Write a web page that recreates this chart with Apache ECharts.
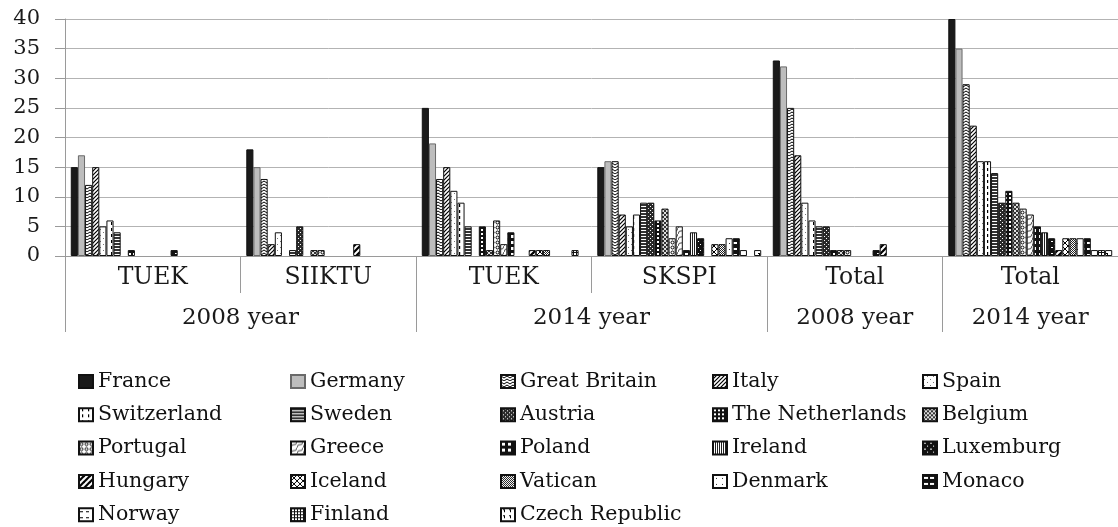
<!DOCTYPE html>
<html>
<head>
<meta charset="utf-8">
<script src="https://cdn.jsdelivr.net/npm/echarts@6/dist/echarts.min.js"></script>
<style>html,body{margin:0;padding:0;background:#fff}#chart{width:1118px;height:527px}</style>
</head>
<body>
<div id="chart"></div>
<script>
// ---- data ----
const countries = ['France','Germany','Great Britain','Italy','Spain','Switzerland','Sweden','Austria','The Netherlands','Belgium','Portugal','Greece','Poland','Ireland','Luxemburg','Hungary','Iceland','Vatican','Denmark','Monaco','Norway','Finland','Czech Republic'];
const categories = ['TUEK','SIIKTU','TUEK','SKSPI','Total','Total'];
const periodLabels = ['2008 year','2014 year','2008 year','2014 year'];
const yTicks = [0,5,10,15,20,25,30,35,40];
const tuek2008   = [15,17,12,15,5,6,4,0,1,0,0,0,0,0,1,0,0,0,0,0,0,0,0];
const siiktu2008 = [18,15,13,2,4,0,1,5,0,1,1,0,0,0,0,2,0,0,0,0,0,0,0];
const tuek2014   = [25,19,13,15,11,9,5,0,5,1,6,2,4,0,0,1,1,1,0,0,0,1,0];
const skspi2014  = [15,16,16,7,5,7,9,9,6,8,3,5,1,4,3,0,2,2,3,3,1,0,1];
const total2008  = [33,32,25,17,9,6,5,5,1,1,1,0,0,0,1,2,0,0,0,0,0,0,0];
const total2014  = [40,35,29,22,16,16,14,9,11,9,8,7,5,4,3,1,3,3,3,3,1,1,1];
const groups = [tuek2008, siiktu2008, tuek2014, skspi2014, total2008, total2014];

// ---- layout helpers ----
const periodCenters = [1,3,4.5,5.5];
const periodBounds = [0,2,4,5,6];
const FONT = 'DejaVu Serif';

function pat(size, bg, draw){
  const c = document.createElement('canvas');
  c.width = c.height = size;
  const g = c.getContext('2d');
  g.fillStyle = bg; g.fillRect(0,0,size,size);
  g.fillStyle = '#000'; g.strokeStyle = '#000'; g.lineWidth = 1;
  if (draw) draw(g, size);
  return {image: c, repeat: 'repeat'};
}
function line(g,x1,y1,x2,y2,w){g.lineWidth=w||1;g.beginPath();g.moveTo(x1,y1);g.lineTo(x2,y2);g.stroke();}

const fills = [
  '#1a1a1a',                                             // France
  '#bdbdbd',                                             // Germany
  pat(6,'#fff',(g)=>{g.beginPath();g.moveTo(0,1);g.lineTo(3,3);g.lineTo(6,1);g.moveTo(0,4);g.lineTo(3,6);g.lineTo(6,4);g.lineWidth=1;g.stroke();}), // GB
  pat(4,'#fff',(g)=>{line(g,0,4,4,0,1.2);line(g,-1,1,1,-1,1.2);line(g,3,5,5,3,1.2);}), // Italy
  pat(6,'#fff',(g)=>{g.fillStyle='#777';g.fillRect(4,1,1,1);g.fillRect(1,4,1,1);}),   // Spain
  pat(6,'#fff',(g)=>{g.fillRect(3,0,1.2,3);}),                                    // Switzerland
  pat(3,'#fff',(g)=>{g.fillStyle='#333';g.fillRect(0,0,3,2);}),                   // Sweden
  pat(4,'#2a2a2a',(g)=>{g.fillStyle='#fff';g.fillRect(0,0,1,1);g.fillRect(2,2,1,1);}), // Austria
  pat(4,'#111',(g)=>{g.fillStyle='#fff';g.fillRect(1,1,2,2);}),                   // Netherlands
  pat(4,'#333',(g)=>{g.fillStyle='#ddd';g.fillRect(0,0,2,2);g.fillRect(2,2,2,2);}), // Belgium
  pat(5,'#fff',(g)=>{g.beginPath();g.arc(2.5,2.5,1.5,0,Math.PI*2);g.stroke();}),   // Portugal
  pat(6,'#fff',(g)=>{g.strokeStyle='#444';g.beginPath();g.moveTo(0,6);g.quadraticCurveTo(1,2,3,3);g.quadraticCurveTo(5,4,6,0);g.stroke();}), // Greece
  pat(6,'#111',(g)=>{g.fillStyle='#fff';g.fillRect(1,1,3,3);}),                   // Poland
  pat(2,'#fff',(g)=>{g.fillStyle='#222';g.fillRect(0,0,1,2);}),                   // Ireland
  pat(6,'#111',(g)=>{g.fillStyle='#fff';g.fillRect(1,1,2,1);g.fillRect(4,4,1,1);}), // Luxemburg
  pat(6,'#fff',(g)=>{line(g,0,6,6,0,2.2);line(g,-1,1,1,-1,2.2);line(g,5,7,7,5,2.2);}), // Hungary
  pat(6,'#fff',(g)=>{line(g,0,6,6,0,1);line(g,0,0,6,6,1);}),                      // Iceland
  pat(2,'#fff',(g)=>{g.fillStyle='#222';g.fillRect(0,0,1,1);g.fillRect(1,1,1,1);}), // Vatican
  pat(6,'#fff',(g)=>{g.fillStyle='#333';g.fillRect(3,3,1,1);}),                   // Denmark
  pat(6,'#111',(g)=>{g.fillStyle='#fff';g.fillRect(1,2,4,2);}),                   // Monaco
  pat(6,'#fff',(g)=>{g.fillRect(1,3,3,1);}),                                      // Norway
  pat(3,'#fff',(g)=>{g.fillStyle='#111';g.fillRect(0,0,3,1);g.fillRect(0,0,1,3);}), // Finland
  pat(6,'#fff',(g)=>{g.fillRect(2,1,2,1);g.fillRect(3,2,1,2);})                   // Czech
];

const series = countries.map((name, i) => ({
  name: name,
  type: 'bar',
  // zero counts draw no bar in the reference
  data: groups.map(gv => (gv[i] === 0 ? '-' : gv[i])),
  barGap: '0%',
  barCategoryGap: '6.6%',
  itemStyle: {color: fills[i], borderColor: i === 1 ? '#6a6a6a' : '#111', borderWidth: 1},
  emphasis: {disabled: true},
  animation: false
}));

const legendLefts = [78, 290, 500, 712, 922];
const legends = legendLefts.map((left, col) => ({
  orient: 'vertical',
  left: left,
  top: 371,
  padding: 0,
  itemGap: 12.3,
  itemWidth: 14,
  itemHeight: 13,
  icon: 'rect',
  selectedMode: false,
  data: countries.filter((c, i) => i % 5 === col),
  textStyle: {fontFamily: FONT, fontSize: 20.5, color: '#111', lineHeight: 20}
}));

const axisGray = '#9a9a9a';
const option = {
  backgroundColor: '#fff',
  animation: false,
  legend: legends,
  grid: {left: 65, right: -4, top: 19, bottom: 271, containLabel: false},
  yAxis: {
    type: 'value', min: 0, max: 40, interval: 5,
    axisLine: {show: true, lineStyle: {color: axisGray}},
    axisTick: {show: true, length: 10, lineStyle: {color: axisGray}},
    splitLine: {lineStyle: {color: '#b3b3b3'}},
    axisLabel: {fontFamily: FONT, fontSize: 21, color: '#1a1a1a', margin: 25,
      formatter: v => String(yTicks[yTicks.indexOf(v)])}
  },
  xAxis: [
    {
      type: 'category', data: categories, boundaryGap: true,
      axisLine: {show: true, lineStyle: {color: axisGray}},
      axisTick: {show: true, interval: 0, length: 37, lineStyle: {color: axisGray}},
      axisLabel: {interval: 0, fontFamily: FONT, fontSize: 23.5, color: '#1a1a1a', margin: 10}
    },
    {
      type: 'value', min: 0, max: 6, position: 'bottom', gridIndex: 0,
      axisLine: {show: false},
      splitLine: {show: false},
      axisTick: {show: true, customValues: periodBounds, length: 76, lineStyle: {color: axisGray}},
      axisLabel: {customValues: periodCenters, fontFamily: FONT, fontSize: 23, color: '#1a1a1a', margin: 51,
        formatter: v => periodLabels[periodCenters.indexOf(v)] || ''}
    }
  ],
  series: series
};

const chart = echarts.init(document.getElementById('chart'), null, {renderer: 'canvas'});
chart.setOption(option);
</script>
</body>
</html>
